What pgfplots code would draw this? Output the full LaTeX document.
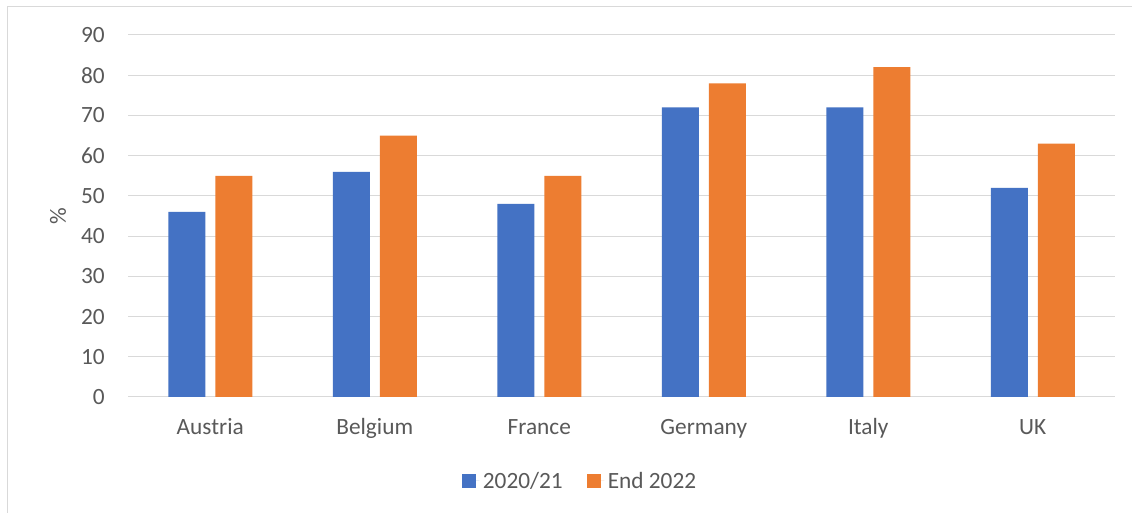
\documentclass[border=0pt]{standalone}
\usepackage{fontspec}
\setmainfont{Carlito}
\usepackage{pgfplots}
\pgfplotsset{compat=1.18}
\definecolor{cblue}{HTML}{4472C4}
\definecolor{corange}{HTML}{ED7D31}
\definecolor{cgrid}{HTML}{D9D9D9}
\definecolor{ctext}{HTML}{595959}
\begin{document}
\begin{tikzpicture}[x=1pt,y=1pt]
\clip (0,0) rectangle (1132,513);
\fill[white] (0,0) rectangle (1132,513);
\draw[cgrid, line width=1.3pt] (7.5,-20) -- (7.5,506.5) -- (1150,506.5);
\begin{axis}[
  at={(128pt,116pt)}, anchor=south west,
  scale only axis, width=987pt, height=362pt,
  ybar=10pt, bar width=37pt,
  xmin=-0.5, xmax=5.5, ymin=0, ymax=90,
  xtick=data,
  xticklabels={Austria,Belgium,France,Germany,Italy,UK},
  ytick={0,10,...,90},
  ymajorgrids, grid style={cgrid, line width=1pt},
  axis x line*=bottom, axis y line*=left,
  x axis line style={cgrid, line width=1pt, -},
  y axis line style={draw=none},
  major tick length=0pt,
  tick label style={font=\fontsize{23.3}{28}\selectfont, text=ctext},
  /pgf/number format/assume math mode=true,
  yticklabel style={anchor=east, inner sep=0pt, xshift=-23pt},
  xticklabel style={anchor=base, inner sep=0pt, yshift=-38pt},
  ylabel={\%},
  ylabel style={at={(axis description cs:-0.071,0.5)}, anchor=center, font=\fontsize{23.3}{28}\selectfont, text=ctext},
  legend columns=-1,
  legend style={at={(axis description cs:0.459,-0.232)}, anchor=center, draw=none, fill=none,
    font=\fontsize{23.3}{28}\selectfont, text=ctext,
    /tikz/every even column/.append style={column sep=21pt},
    nodes={inner sep=3.5pt}},
  legend image code/.code={\fill[#1] (0pt,-6.7pt) rectangle (13.4pt,6.7pt); \path (0pt,0pt) -- (17pt,0pt);},
]
\addplot[fill=cblue, draw=none] coordinates {(0,46) (1,56) (2,48) (3,72) (4,72) (5,52)};
\addplot[fill=corange, draw=none] coordinates {(0,55) (1,65) (2,55) (3,78) (4,82) (5,63)};
\legend{2020/21, End 2022}
\end{axis}
\end{tikzpicture}
\end{document}
